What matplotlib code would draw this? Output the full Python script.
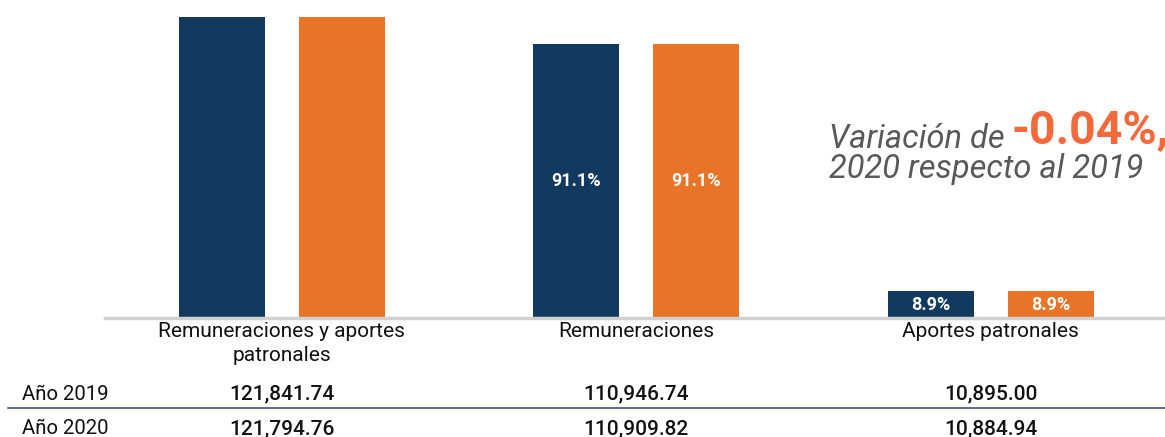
"""Remuneraciones y aportes patronales, 2019 vs 2020."""

import matplotlib

matplotlib.use("Agg")
import matplotlib.pyplot as plt
import numpy as np

plt.rcParams["font.family"] = ["Roboto", "DejaVu Sans"]

categories = ["Remuneraciones y aportes\npatronales", "Remuneraciones", "Aportes patronales"]
values_2019 = [121841.74, 110946.74, 10895.00]
values_2020 = [121794.76, 110909.82, 10884.94]
shares_2019 = [None, "91.1%", "8.9%"]
shares_2020 = [None, "91.1%", "8.9%"]
row_labels = ["Año 2019", "Año 2020"]
variation = "-0.04%,"

NAVY = "#113a5e"
ORANGE = "#e87428"
ANNOT_ORANGE = "#f26a3b"
GREY_TEXT = "#595959"

W, H = 1165, 437
STEP = 354.5
fig = plt.figure(figsize=(W / 100, H / 100), dpi=100)
ax = fig.add_axes([104.5 / W, 1 - 318 / H, 3 * STEP / W, 318 / H])

x = np.arange(len(categories))
bar_w = 86 / STEP
offset = 60 / STEP
ax.bar(x - offset, values_2019, width=bar_w, color=NAVY)
ax.bar(x + offset, values_2020, width=bar_w, color=ORANGE)

for i in range(len(categories)):
    if shares_2019[i]:
        ax.text(x[i] - offset, values_2019[i] / 2, shares_2019[i], ha="center", va="center",
                color="white", fontsize=13, fontweight="bold")
    if shares_2020[i]:
        ax.text(x[i] + offset, values_2020[i] / 2, shares_2020[i], ha="center", va="center",
                color="white", fontsize=13, fontweight="bold")

ax.set_xlim(-0.5, len(categories) - 0.5)
ax.set_ylim(0, max(values_2019) * 318 / 301)
for side in ["top", "right", "left"]:
    ax.spines[side].set_visible(False)
ax.spines["bottom"].set_color("#d0d0d0")
ax.spines["bottom"].set_linewidth(2.5)
ax.set_yticks([])
ax.set_xticks(x)
ax.set_xticklabels(categories, fontsize=15, color="#111111", linespacing=1.3)
ax.tick_params(axis="x", length=0, pad=3)

# table rows under the chart
trans = matplotlib.transforms.blended_transform_factory(ax.transData, fig.transFigure)
row_y = [1 - 394 / H, 1 - 429 / H]
for label, ry in zip(row_labels, row_y):
    fig.text(22 / W, ry, label, ha="left", va="center", fontsize=14.7, color="#111111")
for i in range(len(categories)):
    ax.text(x[i], row_y[0], f"{values_2019[i]:,.2f}", transform=trans, ha="center", va="center",
            fontsize=15, fontweight="medium", color="#111111")
    ax.text(x[i], row_y[1], f"{values_2020[i]:,.2f}", transform=trans, ha="center", va="center",
            fontsize=15, fontweight="medium", color="#111111")
fig.add_artist(plt.Line2D([8 / W, 1], [1 - 408 / H, 1 - 408 / H], color="#44546a", linewidth=1.2))

# variation annotation
fig.text(829 / W, 1 - 148 / H, "Variación de", ha="left", va="baseline", fontsize=23.5,
         style="italic", color=GREY_TEXT)
fig.text(1012 / W, 1 - 143 / H, variation, ha="left", va="baseline", fontsize=33.5,
         fontweight="bold", color=ANNOT_ORANGE)
fig.text(829 / W, 1 - 178 / H, "2020 respecto al 2019", ha="left", va="baseline", fontsize=23.5,
         style="italic", color=GREY_TEXT)

fig.savefig("out.png", dpi=100)
